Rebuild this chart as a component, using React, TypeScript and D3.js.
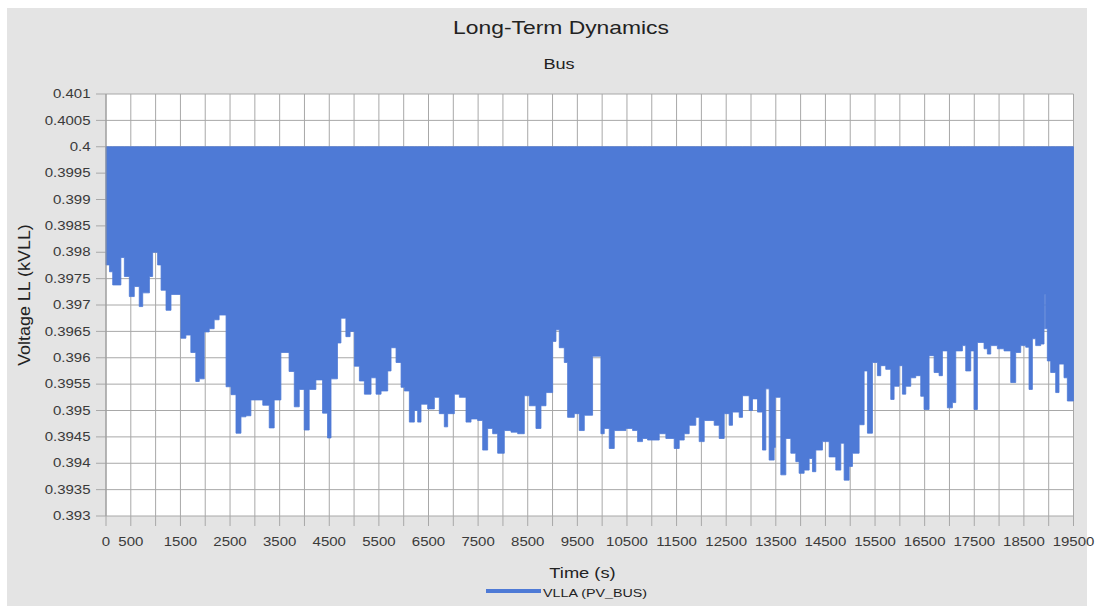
import React from "react";
import * as d3 from "d3";

// Lower envelope of the oscillating VLLA (PV_BUS) trace (upper envelope is 0.4 kV)
const times = [
  0, 70, 135, 300, 370, 470, 570, 670, 740, 875, 940, 1040, 1110, 1210, 1310, 1510, 1610, 1710, 1810, 1880,
  1980, 2080, 2180, 2280, 2420, 2520, 2620, 2720, 2820, 2920, 3160, 3290, 3390, 3525, 3690, 3795, 3895, 3995,
  4095, 4230, 4365, 4465, 4535, 4665, 4735, 4835, 4920, 5006, 5107, 5208, 5342, 5443, 5544, 5678, 5745, 5846,
  5947, 6014, 6114, 6215, 6282, 6349, 6483, 6618, 6718, 6819, 6886, 7021, 7122, 7256, 7357, 7491, 7592, 7692,
  7793, 7894, 8028, 8163, 8297, 8431, 8532, 8666, 8767, 8868, 9002, 9069, 9136, 9237, 9304, 9438, 9539, 9640,
  9807, 9975, 10042, 10143, 10244, 10479, 10613, 10714, 10814, 10915, 11150, 11284, 11452, 11553, 11654, 11754,
  11888, 11956, 12057, 12258, 12359, 12460, 12560, 12627, 12762, 12829, 12963, 13030, 13131, 13232, 13299, 13366,
  13467, 13490, 13601, 13702, 13803, 13903, 13970, 14071, 14172, 14239, 14306, 14440, 14575, 14709, 14810, 14877,
  14978, 15045, 15179, 15280, 15347, 15448, 15548, 15615, 15716, 15817, 15884, 15985, 16052, 16119, 16220, 16320,
  16421, 16488, 16589, 16690, 16791, 16858, 16958, 17059, 17127, 17261, 17328, 17429, 17496, 17563, 17697, 17764,
  17832, 17966, 18100, 18235, 18335, 18436, 18537, 18604, 18671, 18738, 18839, 18906, 18918, 18935, 18973, 19040,
  19141, 19208, 19309, 19376, 19500,
];
const minVoltage = [
  0.39776, 0.39763, 0.39738, 0.3979, 0.39754, 0.39716, 0.39735, 0.39697, 0.39723, 0.39754, 0.398, 0.39776, 0.39728,
  0.3969, 0.3972, 0.39637, 0.39643, 0.3961, 0.39555, 0.3956, 0.39649, 0.39655, 0.39672, 0.39681, 0.39545, 0.3953,
  0.39457, 0.39488, 0.3949, 0.3952, 0.3951, 0.39467, 0.3952, 0.3961, 0.39574, 0.39507, 0.3954, 0.39463, 0.3954,
  0.39558, 0.39495, 0.39448, 0.3956, 0.39628, 0.39675, 0.3964, 0.3965, 0.39584, 0.39556, 0.39531, 0.39562, 0.39531,
  0.39537, 0.39575, 0.39619, 0.39591, 0.39544, 0.39537, 0.39478, 0.395, 0.39478, 0.39512, 0.39503, 0.39525, 0.39494,
  0.39469, 0.39494, 0.39531, 0.39525, 0.39478, 0.39484, 0.39481, 0.39425, 0.39466, 0.39456, 0.39419, 0.39462,
  0.39459, 0.39456, 0.39528, 0.39509, 0.39466, 0.39509, 0.39534, 0.39631, 0.39653, 0.39619, 0.39591, 0.39487,
  0.39494, 0.39462, 0.39491, 0.39603, 0.39456, 0.39466, 0.39428, 0.39462, 0.39466, 0.39462, 0.39441, 0.39447,
  0.39444, 0.39456, 0.39447, 0.39428, 0.39444, 0.39456, 0.39472, 0.39487, 0.39441, 0.39481, 0.39472, 0.39447,
  0.39494, 0.39472, 0.39497, 0.39487, 0.39528, 0.395, 0.39522, 0.39497, 0.39425, 0.39541, 0.39406, 0.3943, 0.39525,
  0.39378, 0.39447, 0.39419, 0.39403, 0.39381, 0.39387, 0.39409, 0.39384, 0.39425, 0.39441, 0.39412, 0.39387,
  0.39438, 0.39368, 0.39394, 0.39419, 0.39473, 0.39575, 0.39457, 0.39591, 0.39566, 0.39585, 0.39578, 0.39521,
  0.39546, 0.39585, 0.39531, 0.39546, 0.39562, 0.39566, 0.39527, 0.39502, 0.39604, 0.39572, 0.39566, 0.39613,
  0.39505, 0.39515, 0.39613, 0.39623, 0.39575, 0.39613, 0.39502, 0.39629, 0.39617, 0.39607, 0.39623, 0.39617,
  0.39613, 0.39553, 0.3961, 0.39623, 0.3962, 0.3954, 0.39636, 0.39623, 0.39626, 0.39655, 0.3972, 0.39655, 0.39594,
  0.39572, 0.39534, 0.39588, 0.39562, 0.39518, 0.39518,
];
const maxVoltage = 0.4;

const yTickLabels = [
  "0.401", "0.4005", "0.4", "0.3995", "0.399", "0.3985", "0.398", "0.3975", "0.397",
  "0.3965", "0.396", "0.3955", "0.395", "0.3945", "0.394", "0.3935", "0.393",
];
const xTickLabels = [
  0, 500, 1500, 2500, 3500, 4500, 5500, 6500, 7500, 8500, 9500, 10500, 11500, 12500, 13500,
  14500, 15500, 16500, 17500, 18500, 19500,
];

const W = 1106;
const H = 606;
const plot = { left: 106, right: 1073.5, top: 94, bottom: 516 };
const FONT = "'Liberation Sans', Arial, Helvetica, sans-serif";
const BLUE = "#4e7ad6";
const SX = 1.25;

export default function App() {
  const x = d3.scaleLinear().domain([0, 19500]).range([plot.left, plot.right]);
  const y = d3.scaleLinear().domain([0.393, 0.401]).range([plot.bottom, plot.top]);

  const data = times.map((t, i) => ({ t, v: minVoltage[i] }));
  const area = d3
    .area<{ t: number; v: number }>()
    .x((d) => x(d.t))
    .y0(() => y(maxVoltage))
    .y1((d) => y(d.v))
    .curve(d3.curveStepAfter);

  const xGrid = d3.range(0, 19501, 500);
  const yGrid = yTickLabels.map((s) => +s);

  return (
    <svg
      width={W}
      height={H}
      style={{ position: "absolute", left: 0, top: 0, background: "#fff" }}
      fontFamily={FONT}
    >
      <rect x={7} y={8} width={1080} height={H - 8} fill="#e4e4e4" />
      <rect
        x={plot.left}
        y={plot.top}
        width={plot.right - plot.left}
        height={plot.bottom - plot.top}
        fill="#ffffff"
      />
      {xGrid.map((t) => (
        <line key={"gx" + t} x1={x(t)} x2={x(t)} y1={plot.top} y2={plot.bottom + 10} stroke="#a8a8a8" strokeWidth={1} />
      ))}
      {yGrid.map((v) => (
        <line key={"gy" + v} x1={plot.left - 10} x2={plot.right} y1={y(v)} y2={y(v)} stroke="#a8a8a8" strokeWidth={1} />
      ))}
      <path d={area(data) || ""} fill={BLUE} stroke={BLUE} strokeWidth={0.8} />
      <line x1={plot.left} x2={plot.left} y1={plot.top} y2={plot.bottom} stroke="#9a9a9a" />

      {yTickLabels.map((s) => (
        <text
          key={"yl" + s}
          transform={`translate(90.5,${y(+s) + 4.2}) scale(${SX},1)`}
          textAnchor="end"
          fontSize={12}
          fill="#3a3a3a"
        >
          {s}
        </text>
      ))}
      {xTickLabels.map((t) => (
        <text
          key={"xl" + t}
          transform={`translate(${x(t)},546) scale(${SX},1)`}
          textAnchor="middle"
          fontSize={12}
          fill="#3a3a3a"
        >
          {t}
        </text>
      ))}

      <text transform={`translate(561,34) scale(1.27,1)`} textAnchor="middle" fontSize={18} fill="#222">
        Long-Term Dynamics
      </text>
      <text transform={`translate(559,69) scale(1.25,1)`} textAnchor="middle" fontSize={14.5} fill="#222">
        Bus
      </text>
      <text transform={`translate(582.5,578) scale(1.22,1)`} textAnchor="middle" fontSize={15} fill="#222">
        Time (s)
      </text>
      <text transform={`translate(30,295) rotate(-90) scale(1.12,1)`} textAnchor="middle" fontSize={16} fill="#222">
        Voltage LL (kVLL)
      </text>

      <line x1={486} x2={541} y1={591} y2={591} stroke={BLUE} strokeWidth={4} />
      <text transform={`translate(543,597) scale(1.3,1)`} fontSize={11} fill="#222">
        VLLA (PV_BUS)
      </text>
    </svg>
  );
}
